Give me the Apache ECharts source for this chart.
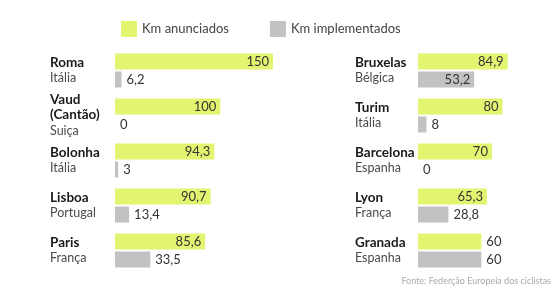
<!DOCTYPE html>
<html>
<head>
<meta charset="utf-8">
<script src="https://cdn.jsdelivr.net/npm/echarts@6/dist/echarts.min.js"></script>
<style>
  html, body { margin: 0; padding: 0; background: #fff; }
  #chart { width: 560px; height: 293px; }
</style>
</head>
<body>
<div id="chart"></div>
<script>
// dados por cidade (painel esquerdo e direito)
var leftCities = ['Roma', 'Vaud\n(Cantão)', 'Bolonha', 'Lisboa', 'Paris'];
var leftCountries = ['Itália', 'Suiça', 'Itália', 'Portugal', 'França'];
var leftAnnounced = [150, 100, 94.3, 90.7, 85.6];
var leftImplemented = [6.2, 0, 3, 13.4, 33.5];

var rightCities = ['Bruxelas', 'Turim', 'Barcelona', 'Lyon', 'Granada'];
var rightCountries = ['Bélgica', 'Itália', 'Espanha', 'França', 'Espanha'];
var rightAnnounced = [84.9, 80, 70, 65.3, 60];
var rightImplemented = [53.2, 8, 0, 28.8, 60];

// exceções de posição do rótulo, como no original
var announcedOutside = ['Granada'];
var implementedInside = ['Bruxelas'];

var FONT = 'Lato';
var YELLOW = '#e3f470';
var GRAY = '#c2c2c2';

function fmt(v) {
    return String(v).replace('.', ',');
}

function makeAxisLabel(cities, countries, margin) {
    return {
        margin: margin,
        align: 'left',
        fontFamily: FONT,
        formatter: function (value) {
            var i = cities.indexOf(value);
            var name = value.split('\n').map(function (s) { return '{c|' + s + '}'; }).join('\n');
            return name + '\n{p|' + countries[i] + '}';
        },
        rich: {
            c: { fontFamily: FONT, fontWeight: 'bold', fontSize: 13.5, color: '#1a1a1a', lineHeight: 15 },
            p: { fontFamily: FONT, fontSize: 12.5, color: '#4a4a4a', lineHeight: 16 }
        }
    };
}

function barData(values, cities, exceptions, defaultPos, otherPos) {
    return values.map(function (v, i) {
        var pos = exceptions.indexOf(cities[i]) >= 0 ? otherPos : defaultPos;
        return {
            value: v,
            label: { position: pos, distance: pos === 'insideRight' ? 4 : 5 }
        };
    });
}

var valueLabel = {
    show: true,
    fontFamily: FONT,
    fontSize: 13,
    color: '#333',
    formatter: function (p) { return fmt(p.value); }
};

var chart = echarts.init(document.getElementById('chart'), null, { renderer: 'canvas' });

chart.setOption({
    animation: false,
    textStyle: { fontFamily: FONT },
    legend: {
        data: ['Km anunciados', 'Km implementados'],
        left: 116,
        top: 16,
        itemWidth: 16,
        itemHeight: 16,
        itemGap: 41,
        icon: 'rect',
        textStyle: { fontFamily: FONT, fontSize: 13, color: '#444' }
    },
    title: {
        text: 'Fonte: Federção Europeia dos ciclistas',
        right: 4,
        bottom: 2,
        textStyle: { fontFamily: FONT, fontSize: 9, fontWeight: 'normal', color: '#aaa' }
    },
    grid: [
        { left: 115, top: 48, width: 158, height: 225 },
        { left: 418, top: 48, width: 132, height: 225 }
    ],
    xAxis: [
        { gridIndex: 0, type: 'value', min: 0, max: 150, show: false },
        { gridIndex: 1, type: 'value', min: 0, max: 125, show: false }
    ],
    yAxis: [
        {
            gridIndex: 0, type: 'category', inverse: true, data: leftCities,
            axisLine: { show: false }, axisTick: { show: false },
            axisLabel: makeAxisLabel(leftCities, leftCountries, 65)
        },
        {
            gridIndex: 1, type: 'category', inverse: true, data: rightCities,
            axisLine: { show: false }, axisTick: { show: false },
            axisLabel: makeAxisLabel(rightCities, rightCountries, 63)
        }
    ],
    series: [
        {
            name: 'Km anunciados', type: 'bar', xAxisIndex: 0, yAxisIndex: 0,
            barWidth: 16, barGap: '12.5%',
            itemStyle: { color: YELLOW },
            label: valueLabel,
            data: barData(leftAnnounced, leftCities, announcedOutside, 'insideRight', 'right')
        },
        {
            name: 'Km implementados', type: 'bar', xAxisIndex: 0, yAxisIndex: 0,
            barWidth: 16, barGap: '12.5%',
            itemStyle: { color: GRAY },
            label: valueLabel,
            data: barData(leftImplemented, leftCities, implementedInside, 'right', 'insideRight')
        },
        {
            name: 'Km anunciados', type: 'bar', xAxisIndex: 1, yAxisIndex: 1,
            barWidth: 16, barGap: '12.5%',
            itemStyle: { color: YELLOW },
            label: valueLabel,
            data: barData(rightAnnounced, rightCities, announcedOutside, 'insideRight', 'right')
        },
        {
            name: 'Km implementados', type: 'bar', xAxisIndex: 1, yAxisIndex: 1,
            barWidth: 16, barGap: '12.5%',
            itemStyle: { color: GRAY },
            label: valueLabel,
            data: barData(rightImplemented, rightCities, implementedInside, 'right', 'insideRight')
        }
    ]
});
</script>
</body>
</html>
